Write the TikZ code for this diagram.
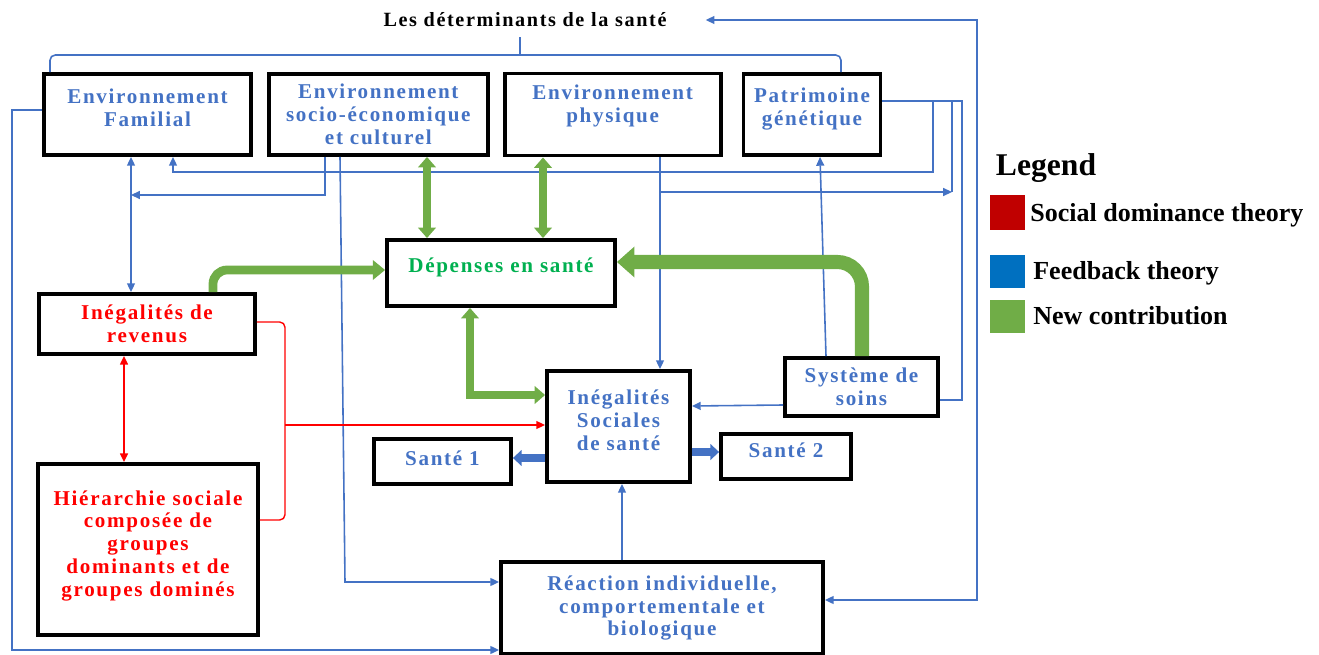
\documentclass[tikz,border=0pt]{standalone}
\usepackage{fontspec}
\setmainfont{Liberation Serif}
\newfontfamily\detfont{Liberation Serif}[LetterSpace=8]
\usepackage{tikz}
\usetikzlibrary{positioning, arrows.meta}
\definecolor{fbblue}{RGB}{68, 114, 196}
\definecolor{ncgreen}{RGB}{112, 173, 71}
\definecolor{nctext}{RGB}{0, 176, 80}
\definecolor{sdred}{RGB}{255, 0, 0}
\definecolor{legred}{RGB}{192, 0, 0}
\definecolor{legblue}{RGB}{0, 112, 192}
\newcommand{\detsize}{\fontsize{12pt}{13pt}\selectfont}
\tikzset{
  % Determinant box
  detbox/.style={
    rectangle, draw=black, line width=2.2pt, fill=white,
    align=center, inner sep=2pt,
    font=\detfont\detsize\bfseries, text=fbblue
  },
  % Push the text up inside a box
  lift/.style={execute at end node={\rule[-#1]{0pt}{0pt}}},
  % Feedback theory connectors
  fbline/.style={line width=0.9pt, draw=fbblue},
  fbarr/.style={fbline, -{Triangle[length=5pt, width=4.5pt]}},
  fbdbl/.style={fbline, {Triangle[length=5pt, width=4.5pt]}-{Triangle[length=5pt, width=4.5pt]}},
  fbthick/.style={line width=4pt, draw=fbblue, -{Triangle[length=5pt, width=9pt]}},
  % Social dominance connectors
  sdline/.style={line width=0.8pt, draw=sdred},
  sdarr/.style={sdline, -{Triangle[length=5pt, width=4.5pt]}},
  sddbl/.style={line width=1pt, draw=sdred, {Triangle[length=5pt, width=4.5pt]}-{Triangle[length=5pt, width=4.5pt]}},
  % New contribution connectors
  ncarr/.style={line width=5pt, draw=ncgreen, -{Triangle[length=7pt, width=11pt]}},
  ncbig/.style={line width=8pt, draw=ncgreen, -{Triangle[length=10pt, width=17pt]}},
  ncdbl/.style={line width=5pt, draw=ncgreen, {Triangle[length=6pt, width=10pt]}-{Triangle[length=6pt, width=10pt]}},
  % Legend
  legsq/.style={rectangle, minimum width=0.7cm, minimum height=0.66cm, inner sep=0pt},
  legtext/.style={anchor=west, inner sep=0pt, font=\fontsize{14.8pt}{17pt}\selectfont\bfseries},
}

\begin{document}
\begin{tikzpicture}[x=0.02cm, y=-0.02cm]
  \useasboundingbox (0,0) rectangle (1319,655);
  \node[font=\detfont\fontsize{11.5pt}{13pt}\selectfont\bfseries] (title) at (525,20) {Les déterminants de la santé};
  % top row
  \node[detbox, minimum width=4.14cm, minimum height=1.62cm, lift=0.28cm] (famil) at (147.5,114.5) {Environnement\\Familial};
  \node[detbox, minimum width=4.38cm, minimum height=1.62cm, right=0.28cm of famil] (socio) {Environnement\\socio-économique\\et culturel};
  \node[detbox, minimum width=4.32cm, minimum height=1.64cm, lift=0.44cm, right=0.26cm of socio] (phys) {Environnement\\physique};
  \node[detbox, minimum width=2.74cm, minimum height=1.62cm, lift=0.3cm, right=0.38cm of phys] (genet) {Patrimoine\\génétique};
  % middle and bottom
  \node[detbox, text=nctext, minimum width=4.56cm, minimum height=1.32cm, lift=0.32cm] (depen) at (501,273) {Dépenses en santé};
  \node[detbox, text=sdred, minimum width=4.32cm, minimum height=1.2cm] (increv) at (147,324) {Inégalités de\\revenus};
  \node[detbox, text=sdred, minimum width=4.4cm, minimum height=3.42cm, lift=0.24cm] (hier) at (148,549.5) {Hiérarchie sociale\\composée de\\groupes\\dominants et de\\groupes dominés};
  \node[detbox, minimum width=2.86cm, minimum height=2.22cm, lift=0.26cm] (iss) at (618.5,426.5) {Inégalités\\Sociales\\de santé};
  \node[detbox, minimum width=3.06cm, minimum height=1.16cm] (soins) at (861.5,387) {Système de\\soins};
  \node[detbox, minimum width=2.74cm, minimum height=0.9cm, lift=0.14cm] (sante1) at (442.5,461.5) {Santé 1};
  \node[detbox, minimum width=2.6cm, minimum height=0.9cm, lift=0.26cm] (sante2) at (786,456.5) {Santé 2};
  \node[detbox, minimum width=6.44cm, minimum height=1.84cm] (react) at (662,608) {Réaction individuelle,\\comportementale et\\biologique};

  % feedback theory
  \coordinate (brace) at (520,55);
  \draw[fbline, rounded corners=3pt] (50,0 |- famil.north) -- (50,55) -- (841,55) -- (841,0 |- genet.north);
  \draw[fbline] (brace) -- (520,37);
  \draw[fbdbl] ([xshift=0.66cm]title.east) -- (977,0 |- title.east) -- (977,600) -- (react.east |- 0,600);
  \draw[fbarr] (famil.west |- 0,110) -- (12,110) -- (12,650) -- (react.west |- 0,650);
  \draw[fbarr] (340,0 |- socio.south) -- (345,582) -- (react.west |- 0,582);
  \coordinate (famlink) at (131,195);
  \draw[fbarr] (325,0 |- socio.south) -- (325,195) -- (famlink);
  \draw[fbdbl] (131,0 |- famil.south) -- (131,0 |- increv.north);
  \draw[fbarr] (genet.east |- 0,101) -- (933,101) -- (933,172) -- (173,172) -- (173,0 |- famil.south);
  \draw[fbline] (genet.east |- 0,101) -- (962,101) -- (962,400) -- (soins.east |- 0,400);
  \draw[fbarr] (660,0 |- phys.south) -- (660,0 |- iss.north);
  \draw[fbarr] (660,192) -- (952,192);
  \draw[fbline] (952,101) -- (952,192);
  \draw[fbarr] (826,0 |- soins.north) -- (820,0 |- genet.south);
  \draw[fbarr] (soins.west |- 0,405) -- (iss.east |- 0,406);
  \draw[fbarr] (622,0 |- react.north) -- (622,0 |- iss.south);
  \draw[fbthick] (iss.west |- 0,458) -- (sante1.east |- 0,458);
  \draw[fbthick] (iss.east |- 0,452) -- (sante2.west |- 0,452);

  % social dominance
  \draw[sddbl] (124,0 |- increv.south) -- (124,0 |- hier.north);
  \draw[sdline, rounded corners=3pt] (increv.east |- 0,322) -- (285,322) -- (285,520) -- (hier.east |- 0,520);
  \draw[sdarr] (285,425) -- (iss.west |- 0,425);

  % new contribution
  \draw[ncarr, rounded corners=8pt] (213,0 |- increv.north) -- (213,270) -- (depen.west |- 0,270);
  \draw[ncbig, rounded corners=14pt] (862,0 |- soins.north) -- (862,262) -- (depen.east |- 0,262);
  \draw[ncdbl] (427,0 |- socio.south) -- (427,0 |- depen.north);
  \draw[ncdbl] (543,0 |- phys.south) -- (543,0 |- depen.north);
  \draw[ncdbl] (470,0 |- depen.south) -- (470,395) -- (iss.west |- 0,395);

  % legend
  \node[font=\fontsize{18pt}{20pt}\selectfont\bfseries] (legtitle) at (1046,168) {Legend};
  \node[legsq, fill=legred, minimum height=0.7cm] (sqsd) at (1007.5,212.5) {};
  \node[legsq, fill=legblue] (sqfb) at (1007.5,271.5) {};
  \node[legsq, fill=ncgreen] (sqnc) at (1007.5,316.5) {};
  \node[legtext] (txsd) at (1030,215) {Social dominance theory};
  \node[legtext] (txfb) at (1033,273) {Feedback theory};
  \node[legtext] (txnc) at (1033,316) {New contribution};
\end{tikzpicture}
\end{document}
